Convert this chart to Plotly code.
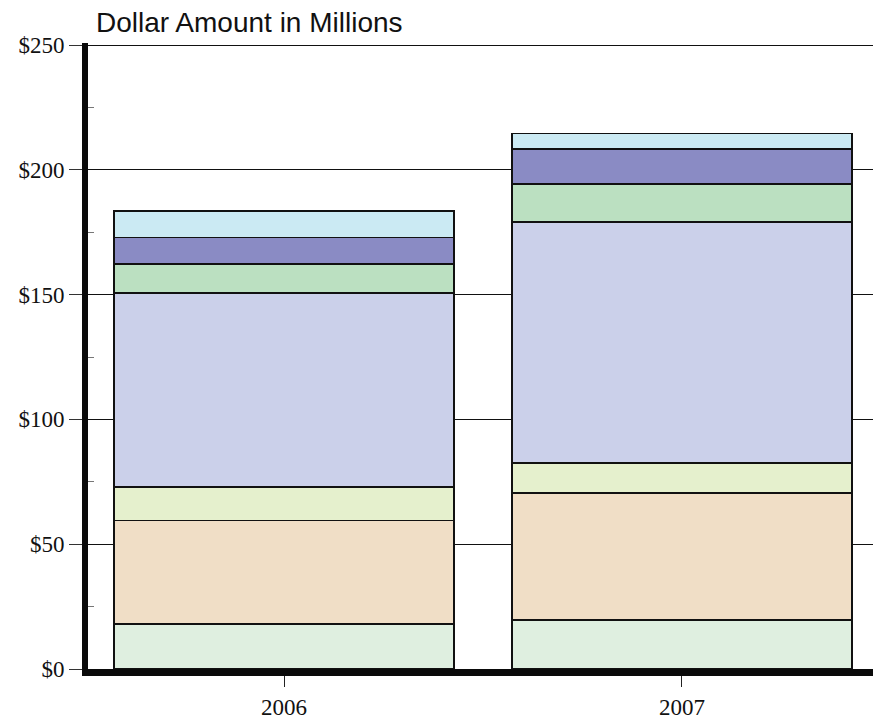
import plotly.graph_objects as go

years = ["2006", "2007"]
series_names = ["Seg1", "Seg2", "Seg3", "Seg4", "Seg5", "Seg6", "Seg7"]
seg1 = [18.1, 19.7]
seg2 = [41.4, 50.8]
seg3 = [13.5, 12.0]
seg4 = [77.7, 96.7]
seg5 = [11.6, 15.2]
seg6 = [10.5, 13.9]
seg7 = [10.6, 6.2]
colors = ["#DFEFE0", "#F0DEC6", "#E5F0CD", "#CBD0EA", "#BBE0C1", "#8A8BC4", "#CBEAF3"]

y_ticks = [0, 50, 100, 150, 200, 250]
y_tick_text = ["$0", "$50", "$100", "$150", "$200", "$250"]
y_minor = [25, 75, 125, 175, 225]

fig = go.Figure()
for name, vals, col in zip(series_names, [seg1, seg2, seg3, seg4, seg5, seg6, seg7], colors):
    fig.add_trace(go.Bar(x=[0, 1], y=vals, name=name, marker=dict(color=col, line=dict(color="#111111", width=1.6)),
                         showlegend=False, hoverinfo="skip"))

fig.update_layout(
    barmode="stack",
    bargap=0.146,
    width=873, height=720,
    margin=dict(l=88, r=0, t=43, b=46),
    paper_bgcolor="white", plot_bgcolor="white",
    title=dict(text="Dollar Amount in Millions", x=96/873, xanchor="left", y=1 - 22/720, yanchor="middle",
               font=dict(family="Liberation Sans", size=28, color="#111")),
    xaxis=dict(range=[-0.4925, 1.48], tickvals=[0, 1], ticktext=years, showline=True, linewidth=7, linecolor="#0a0a0a",
               ticks="outside", ticklen=11, tickwidth=1.2, tickcolor="#222", showgrid=False, zeroline=False,
               tickfont=dict(family="Liberation Serif", size=23, color="#111")),
    yaxis=dict(range=[0, 250.8], tickvals=y_ticks, ticktext=y_tick_text, showline=True, linewidth=6, linecolor="#0a0a0a",
               ticks="outside", ticklen=13, tickwidth=1.2, tickcolor="#333", showgrid=True, gridcolor="#111",
               gridwidth=1.2, zeroline=False, tickfont=dict(family="Liberation Serif", size=23, color="#111"),
               minor=dict(tickvals=y_minor, ticks="inside", ticklen=6, tickwidth=1, tickcolor="#777", showgrid=False)),
    yaxis2=dict(range=[0, 250.8], overlaying="y", side="left", tickvals=y_minor, showticklabels=False, ticks="outside",
                ticklen=11, tickwidth=1, tickcolor="#777", showgrid=False, zeroline=False, showline=False),
)
fig.write_html("out.html", config={"displayModeBar": False},
               post_script="document.body.style.margin='0';document.body.style.overflow='hidden';")
